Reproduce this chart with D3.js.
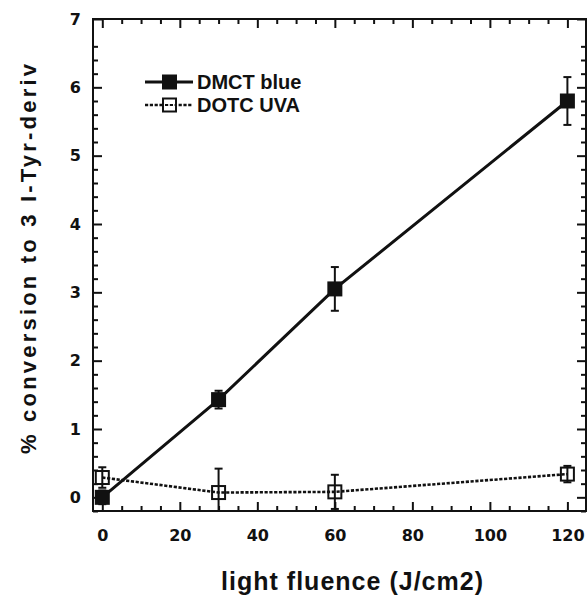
<html>
<head>
  <script src="https://d3js.org/d3.v7.min.js"></script>
  <style>
    body { margin: 0; background: #fff; }
  </style>
</head>
<body>
  <svg width="588" height="596"></svg>
  <script>

  // light fluence (J/cm2)
  var fluence = [0, 30, 60, 120];

  // DMCT blue series
  var dmctBlue = [0, 1.43, 3.05, 5.8];
  var dmctErr = [0.1, 0.13, 0.32, 0.35];

  // DOTC UVA series
  var dotcUva = [0.29, 0.07, 0.08, 0.34];
  var dotcErr = [0.15, 0.35, 0.25, 0.12];

  var xMajor = [0, 20, 40, 60, 80, 100, 120];
  var yMajor = [0, 1, 2, 3, 4, 5, 6, 7];
  var seriesNames = ["DMCT blue", "DOTC UVA"];

  var svg = d3.select("svg"),
    width = +svg.attr("width"),
    height = +svg.attr("height");

  var X = d3.scaleLinear().domain([-2.4, 124.8]).range([93, 586]);
  var Y = d3.scaleLinear().domain([-0.2, 7]).range([511, 19]);

  var xMinor = d3.range(0, 125, 5).filter(function(d) { return d % 20 != 0; });
  var yMinor = d3.range(0, 35).map(function(i) { return -0.2 + i * 0.2; })
    .filter(function(d) { return Math.abs(d - Math.round(d)) > 0.01; });

  var ink = "#111";
  var tickFont = "bold 16px 'DejaVu Sans', sans-serif";
  var dash = "3.2,1.6";

  function styleAxis(g) {
    g.select(".domain").remove();
    g.selectAll(".tick line").attr("stroke", ink).attr("stroke-width", 2);
    g.selectAll(".tick text").attr("fill", ink).style("font", tickFont);
  }

  // bottom axis
  svg.append("g").attr("transform", "translate(0,511)")
    .call(d3.axisBottom(X).tickValues(xMinor).tickSize(-5).tickFormat(""))
    .call(styleAxis);
  svg.append("g").attr("transform", "translate(0,511)")
    .call(d3.axisBottom(X).tickValues(xMajor).tickSize(-9).tickPadding(19).tickFormat(d3.format("d")))
    .call(styleAxis);

  // top axis
  svg.append("g").attr("transform", "translate(0,19)")
    .call(d3.axisTop(X).tickValues(xMinor).tickSize(-5).tickFormat(""))
    .call(styleAxis);
  svg.append("g").attr("transform", "translate(0,19)")
    .call(d3.axisTop(X).tickValues(xMajor).tickSize(-9).tickFormat(""))
    .call(styleAxis);

  // left axis
  svg.append("g").attr("transform", "translate(93,0)")
    .call(d3.axisLeft(Y).tickValues(yMinor).tickSize(-5).tickFormat(""))
    .call(styleAxis);
  svg.append("g").attr("transform", "translate(93,0)")
    .call(d3.axisLeft(Y).tickValues(yMajor).tickSize(-9).tickPadding(12).tickFormat(d3.format("d")))
    .call(styleAxis);

  // right axis
  svg.append("g").attr("transform", "translate(586,0)")
    .call(d3.axisRight(Y).tickValues(yMinor).tickSize(-5).tickFormat(""))
    .call(styleAxis);
  svg.append("g").attr("transform", "translate(586,0)")
    .call(d3.axisRight(Y).tickValues(yMajor).tickSize(-9).tickFormat(""))
    .call(styleAxis);

  // frame
  svg.append("rect")
    .attr("x", X.range()[0]).attr("y", Y.range()[1])
    .attr("width", X.range()[1] - X.range()[0])
    .attr("height", Y.range()[0] - Y.range()[1])
    .attr("fill", "none").attr("stroke", ink).attr("stroke-width", 2);

  svg.append("clipPath").attr("id", "plot")
    .append("rect")
    .attr("x", X.range()[0]).attr("y", Y.range()[1])
    .attr("width", X.range()[1] - X.range()[0])
    .attr("height", Y.range()[0] - Y.range()[1]);

  var plot = svg.append("g").attr("clip-path", "url(#plot)");

  var dmct = fluence.map(function(f, i) { return {x: f, y: dmctBlue[i], e: dmctErr[i]}; });
  var dotc = fluence.map(function(f, i) { return {x: f, y: dotcUva[i], e: dotcErr[i]}; });

  var line = d3.line()
    .x(function(d) { return X(d.x); })
    .y(function(d) { return Y(d.y); });

  plot.append("path").datum(dotc)
    .attr("d", line).attr("fill", "none")
    .attr("stroke", ink).attr("stroke-width", 2.6)
    .attr("stroke-dasharray", dash);

  plot.append("path").datum(dmct)
    .attr("d", line).attr("fill", "none")
    .attr("stroke", ink).attr("stroke-width", 3);

  function errorBars(data) {
    var g = plot.append("g").attr("stroke", ink).attr("stroke-width", 2);
    g.selectAll("line.v").data(data).enter().append("line")
      .attr("x1", function(d) { return X(d.x); })
      .attr("x2", function(d) { return X(d.x); })
      .attr("y1", function(d) { return Y(d.y - d.e); })
      .attr("y2", function(d) { return Y(d.y + d.e); });
    g.selectAll("line.t").data(data).enter().append("line")
      .attr("x1", function(d) { return X(d.x) - 4; })
      .attr("x2", function(d) { return X(d.x) + 4; })
      .attr("y1", function(d) { return Y(d.y + d.e); })
      .attr("y2", function(d) { return Y(d.y + d.e); });
    g.selectAll("line.b").data(data).enter().append("line")
      .attr("x1", function(d) { return X(d.x) - 4; })
      .attr("x2", function(d) { return X(d.x) + 4; })
      .attr("y1", function(d) { return Y(d.y - d.e); })
      .attr("y2", function(d) { return Y(d.y - d.e); });
  }
  errorBars(dotc);
  errorBars(dmct);

  plot.selectAll("rect.open").data(dotc).enter().append("rect")
    .attr("x", function(d) { return X(d.x) - 6.5; })
    .attr("y", function(d) { return Y(d.y) - 6.5; })
    .attr("width", 13).attr("height", 13)
    .attr("fill", "none").attr("stroke", ink).attr("stroke-width", 2);

  plot.selectAll("rect.filled").data(dmct).enter().append("rect")
    .attr("x", function(d) { return X(d.x) - 7.5; })
    .attr("y", function(d) { return Y(d.y) - 7.5; })
    .attr("width", 15).attr("height", 15)
    .attr("fill", ink);

  // legend
  var legend = svg.append("g");
  var rows = [82, 105];
  seriesNames.forEach(function(name, i) {
    var yy = rows[i];
    legend.append("line")
      .attr("x1", 145).attr("x2", 193).attr("y1", yy).attr("y2", yy)
      .attr("stroke", ink)
      .attr("stroke-width", i == 0 ? 3 : 2.6)
      .attr("stroke-dasharray", i == 0 ? null : dash);
    if (i == 0) {
      legend.append("rect").attr("x", 162).attr("y", yy - 7.5)
        .attr("width", 15).attr("height", 15).attr("fill", ink);
    } else {
      legend.append("rect").attr("x", 163).attr("y", yy - 6.5)
        .attr("width", 13).attr("height", 13)
        .attr("fill", "#fff").attr("stroke", ink).attr("stroke-width", 2);
      legend.append("line").attr("x1", 165).attr("x2", 175).attr("y1", yy).attr("y2", yy)
        .attr("stroke", ink).attr("stroke-width", 2).attr("stroke-dasharray", dash);
    }
    legend.append("text")
      .attr("x", 197).attr("y", yy).attr("dy", "0.36em")
      .style("font", "bold 20px 'Liberation Sans', Arial, sans-serif")
      .attr("fill", ink)
      .text(name);
  });

  // axis titles
  svg.append("text")
    .attr("x", 352).attr("y", 590)
    .attr("text-anchor", "middle")
    .style("font", "bold 25px 'Liberation Sans', Arial, sans-serif")
    .attr("textLength", 262).attr("lengthAdjust", "spacing")
    .attr("fill", ink)
    .text("light fluence (J/cm2)");

  svg.append("text")
    .attr("transform", "translate(36,259) rotate(-90)")
    .attr("text-anchor", "middle")
    .style("font", "bold 22px 'Liberation Sans', Arial, sans-serif")
    .attr("textLength", 390).attr("lengthAdjust", "spacing")
    .attr("fill", ink)
    .text("% conversion to 3 I-Tyr-deriv");

  </script>
</body>
</html>
